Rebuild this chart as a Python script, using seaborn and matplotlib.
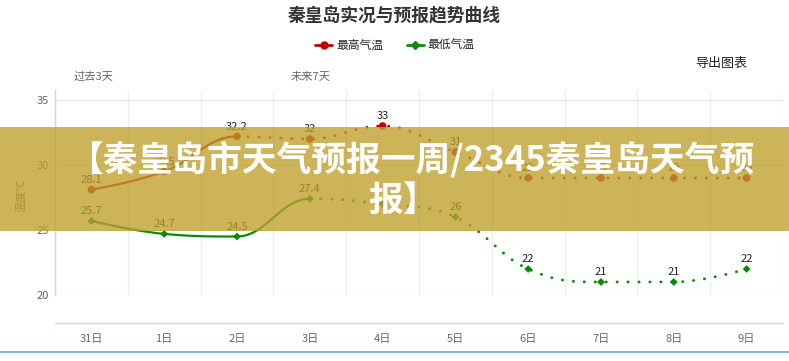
import numpy as np
import pandas as pd
import matplotlib
matplotlib.use("Agg")
import matplotlib.pyplot as plt
import seaborn as sns
from matplotlib.patches import Rectangle
from matplotlib.lines import Line2D

# ---------------- data ----------------
days = ["31日", "1日", "2日", "3日", "4日", "5日", "6日", "7日", "8日", "9日"]
high = [28.1, 29.5, 32.2, 32, 33, 31, 29, 29, 29, 29]
low = [25.7, 24.7, 24.5, 27.4, 27.0, 26, 22, 21, 21, 22]
high_labels = ["28.1", "29.5", "32.2", "32", "33", "31", "29", "29", "29", "29"]
low_labels = ["25.7", "24.7", "24.5", "27.4", "", "26", "22", "21", "21", "22"]
yticks = [20, 25, 30, 35]
high_solid_until = 2  # solid line up to this index, dotted afterwards
low_solid_until = 3

title = "秦皇岛实况与预报趋势曲线"
series_names = ["最高气温", "最低气温"]
banner_lines = ["【秦皇岛市天气预报一周/2345秦皇岛天气预", "报】"]

# ---------------- style ----------------
sns.set_theme(style="white")
plt.rcParams["font.family"] = ["Noto Sans CJK SC", "DejaVu Sans"]

W, H = 789, 361
fig = plt.figure(figsize=(W / 100, H / 100), dpi=100)
fig.patch.set_facecolor("white")


def fx(px):
    return px / W


def fy(py):
    return 1 - py / H


ax = fig.add_axes([fx(55), fy(295), fx(783) - fx(55), fy(90) - fy(295)])
ax.set_facecolor("white")

RED = "#c00000"
GREEN = "#0a8a0a"


def hc_spline(vals, steps=40):
    """Highcharts-style spline control points, evaluated as cubic beziers."""
    n = len(vals)
    xs = np.arange(n, dtype=float)
    ys = np.asarray(vals, dtype=float)
    lcx, lcy, rcx, rcy = xs.copy(), ys.copy(), xs.copy(), ys.copy()
    s, d = 1.5, 2.5
    for i in range(1, n - 1):
        lcx[i] = (s * xs[i] + xs[i - 1]) / d
        lcy[i] = (s * ys[i] + ys[i - 1]) / d
        rcx[i] = (s * xs[i] + xs[i + 1]) / d
        rcy[i] = (s * ys[i] + ys[i + 1]) / d
        corr = (rcy[i] - lcy[i]) * (rcx[i] - xs[i]) / (rcx[i] - lcx[i]) + ys[i] - rcy[i]
        lcy[i] += corr
        rcy[i] += corr
        if lcy[i] > ys[i - 1] and lcy[i] > ys[i]:
            lcy[i] = max(ys[i - 1], ys[i]); rcy[i] = 2 * ys[i] - lcy[i]
        elif lcy[i] < ys[i - 1] and lcy[i] < ys[i]:
            lcy[i] = min(ys[i - 1], ys[i]); rcy[i] = 2 * ys[i] - lcy[i]
        if rcy[i] > ys[i + 1] and rcy[i] > ys[i]:
            rcy[i] = max(ys[i + 1], ys[i]); lcy[i] = 2 * ys[i] - rcy[i]
        elif rcy[i] < ys[i + 1] and rcy[i] < ys[i]:
            rcy[i] = min(ys[i + 1], ys[i]); lcy[i] = 2 * ys[i] - rcy[i]
    t = np.linspace(0, 1, steps)
    out_x, out_y, seg = [], [], []
    for i in range(1, n):
        p0 = (xs[i - 1], ys[i - 1])
        p1 = (rcx[i - 1], rcy[i - 1])
        p2 = (lcx[i], lcy[i])
        p3 = (xs[i], ys[i])
        bx = (1 - t) ** 3 * p0[0] + 3 * (1 - t) ** 2 * t * p1[0] + 3 * (1 - t) * t ** 2 * p2[0] + t ** 3 * p3[0]
        by = (1 - t) ** 3 * p0[1] + 3 * (1 - t) ** 2 * t * p1[1] + 3 * (1 - t) * t ** 2 * p2[1] + t ** 3 * p3[1]
        out_x.extend(bx); out_y.extend(by); seg.extend([i] * steps)
    return pd.DataFrame({"x": out_x, "y": out_y, "seg": seg})


def draw_series(vals, color, marker, msize, split):
    curve = hc_spline(vals)
    solid = curve[curve["seg"] <= split]
    dotted = curve[curve["seg"] > split]
    sns.lineplot(data=solid, x="x", y="y", ax=ax, color=color, lw=1.6,
                 sort=False, estimator=None, legend=False, zorder=3)
    sns.lineplot(data=dotted, x="x", y="y", ax=ax, color=color, lw=2.1,
                 linestyle=(0, (0.05, 3.7)), dash_capstyle="round",
                 sort=False, estimator=None, legend=False, zorder=3)
    pts = pd.DataFrame({"x": np.arange(len(vals)), "y": vals})
    sns.scatterplot(data=pts, x="x", y="y", ax=ax, color=color, marker=marker,
                    s=msize, edgecolor="none", linewidth=0, legend=False, zorder=4)


draw_series(high, RED, "o", 30, high_solid_until)
draw_series(low, GREEN, "D", 16, low_solid_until)

for vals, labs in ((high, high_labels), (low, low_labels)):
    for i, (v, lab) in enumerate(zip(vals, labs)):
        if lab:
            ax.annotate(lab, (i, v), xytext=(0, 7), textcoords="offset points",
                        ha="center", va="center", fontsize=8, color="#222222", zorder=5)

# ---------------- axes ----------------
ax.set_xlim(-0.5, len(days) - 0.5)
ax.set_ylim(20, 20 + 205 / 13)
ax.set_yticks(yticks)
ax.set_yticklabels([str(v) for v in yticks])
ax.set_xticks(np.arange(len(days)))
ax.set_xticklabels(days)
ax.set_xticks(np.arange(len(days) + 1) - 0.5, minor=True)
ax.tick_params(axis="x", which="major", length=0, pad=8, labelsize=8, labelcolor="#666666")
ax.tick_params(axis="x", which="minor", length=7.2, width=1, color="#ccd6eb", direction="out")
ax.tick_params(axis="y", which="major", length=0, pad=4.3, labelsize=8, labelcolor="#666666")
ax.set_xlabel("")
ax.set_ylabel("温度℃", fontsize=8, color="#666666", va="center")
ax.yaxis.set_label_coords((21 - 55) / 728, (295 - 195) / 205)

ax.grid(False)
ax.grid(True, axis="y", which="major", color="#e6e6e6", lw=1, zorder=0)
ax.grid(True, axis="x", which="minor", color="#eeeeee", lw=1, zorder=0)
for side in ["top", "right"]:
    ax.spines[side].set_visible(False)
ax.spines["left"].set_color("#ccd6eb")
ax.spines["left"].set_linewidth(1)
ax.spines["bottom"].set_color("#ccd6eb")
ax.spines["bottom"].set_linewidth(1)
ax.spines["bottom"].set_position(("outward", 28 * 0.72))

# ---------------- texts ----------------
fig.text(fx(394), fy(15), title, ha="center", va="center", fontsize=12.8,
         fontweight="bold", color="#333333")
fig.text(fx(695), fy(63), "导出图表", ha="left", va="center", fontsize=9.4, color="#222222")
fig.text(fx(74), fy(77), "过去3天", ha="left", va="center", fontsize=8.1, color="#666666")
fig.text(fx(291), fy(77), "未来7天", ha="left", va="center", fontsize=8.1, color="#666666")

handles = [Line2D([], [], color=RED, lw=2, marker="o", markersize=5),
           Line2D([], [], color=GREEN, lw=2, marker="D", markersize=4)]
fig.legend(handles, series_names, loc="center", bbox_to_anchor=(fx(395), fy(45.7)),
           ncol=2, frameon=False, fontsize=8.5, handlelength=1.44,
           handletextpad=0.34, columnspacing=1.95, borderpad=0, borderaxespad=0)

# bottom border
fig.add_artist(Line2D([0, 1], [fy(352), fy(352)], color="#82b4e6", lw=1.5,
                      transform=fig.transFigure))

# ---------------- banner overlay ----------------
fig.add_artist(Rectangle((0, fy(231)), 1, fy(127) - fy(231), transform=fig.transFigure,
                         facecolor="#bf9f29", edgecolor="none", alpha=0.78, zorder=20))
fig.text(fx(411), fy(159), banner_lines[0], ha="center", va="center", fontsize=25,
         fontweight="bold", color="white", zorder=21)
fig.text(fx(403), fy(200), banner_lines[1], ha="center", va="center", fontsize=25,
         fontweight="bold", color="white", zorder=21)

fig.savefig("out.png", dpi=100, facecolor="white")
